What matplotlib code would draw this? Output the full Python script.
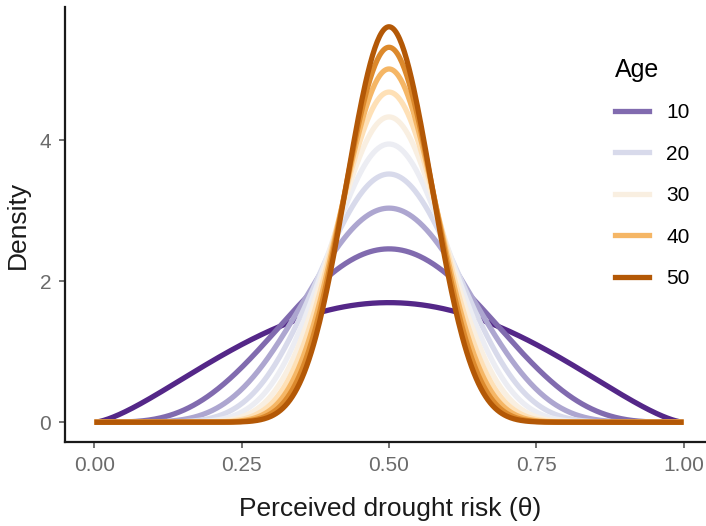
import math
import numpy as np
import matplotlib
matplotlib.use("Agg")
import matplotlib.pyplot as plt
from matplotlib.colors import LinearSegmentedColormap
from matplotlib.lines import Line2D

plt.rcParams["font.family"] = ["Liberation Sans", "DejaVu Sans"]

# Ages and the symmetric Beta shape parameter used for each age
ages = [5, 10, 15, 20, 25, 30, 35, 40, 45, 50]
shape_a = [2.5, 5.0, 7.5, 10.0, 12.5, 15.0, 17.5, 20.0, 22.5, 25.0]
legend_ages = [10, 20, 30, 40, 50]

# PuOr palette, purple for young ages to orange for old ages
palette = ["#542788", "#998ec3", "#d8daeb", "#f7f7f7", "#fee0b6", "#f1a340", "#b35806"]
cmap = LinearSegmentedColormap.from_list("puor_rev", palette)


def age_colour(age):
    return cmap((age - min(ages)) / (max(ages) - min(ages)))


def beta_pdf(x, a, b):
    logc = math.lgamma(a + b) - math.lgamma(a) - math.lgamma(b)
    with np.errstate(divide="ignore"):
        out = np.exp(logc + (a - 1) * np.log(x) + (b - 1) * np.log1p(-x))
    return np.nan_to_num(out)


W, H, DPI = 706, 526, 100
fig = plt.figure(figsize=(W / DPI, H / DPI), dpi=DPI)
left, right, bottom, top = 65, 706, 442, 7
ax = fig.add_axes([left / W, 1 - bottom / H, (right - left) / W, (bottom - top) / H])

theta = np.linspace(0, 1, 501)
peak = 0
for age, a in zip(ages, shape_a):
    d = beta_pdf(theta, a, a)
    peak = max(peak, d.max())
    ax.plot(theta, d, color=age_colour(age), lw=3.8, solid_capstyle="butt", zorder=2)

ax.set_xlim(-0.05, -0.05 + 1.1 * (right - left) / (713 - left))
ax.set_ylim(-0.05 * peak, peak * 1.05)

ax.set_xticks([0, 0.25, 0.5, 0.75, 1.0])
ax.set_xticklabels(["0.00", "0.25", "0.50", "0.75", "1.00"])
ax.set_yticks([0, 2, 4])
ax.set_yticklabels(["0", "2", "4"])
ax.tick_params(axis="both", colors="#4d4d4d", labelcolor="#6b6b6b", labelsize=15,
               length=4, width=1.1, pad=6)
for side in ("top", "right"):
    ax.spines[side].set_visible(False)
for side in ("left", "bottom"):
    ax.spines[side].set_linewidth(1.6)
    ax.spines[side].set_color("#1a1a1a")

ax.set_xlabel("Perceived drought risk (θ)", fontsize=19, color="#1a1a1a", va="top")
ax.xaxis.set_label_coords((390 - left) / (right - left), -(497 - bottom) / (bottom - top))
ax.set_ylabel("Density", fontsize=19, color="#1a1a1a", labelpad=7)

handles = [Line2D([0], [0], color=age_colour(a), lw=3.8) for a in legend_ages]
leg = ax.legend(handles, [str(a) for a in legend_ages], title="Age",
                loc="upper left", bbox_to_anchor=(607 / W, 1 - 50 / H),
                bbox_transform=fig.transFigure, frameon=False,
                fontsize=15, title_fontsize=18, handlelength=1.6,
                handletextpad=0.85, labelspacing=1.08, borderaxespad=0)
leg._legend_box.align = "left"
leg._legend_box.sep = 15

fig.savefig("out.png", dpi=DPI)
